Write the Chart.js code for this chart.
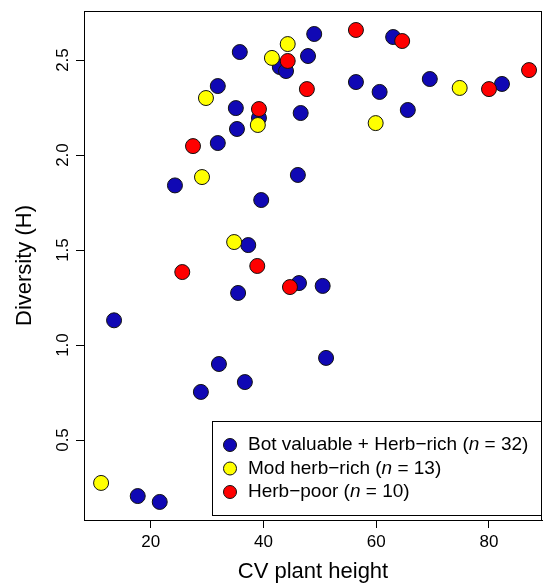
<!DOCTYPE html>
<html>
<head>
<meta charset="utf-8">
<script src="https://cdn.jsdelivr.net/npm/chart.js@4"></script>
<style>
  html, body { margin: 0; padding: 0; background: #fff; }
</style>
</head>
<body>
<canvas id="myChart" width="544" height="586"></canvas>
<script>
const groupNames = ["Bot valuable + Herb\u2212rich", "Mod herb\u2212rich", "Herb\u2212poor"]
const groupCounts = [32, 13, 10]
const groupColors = ["#1008b4", "#ffff00", "#ff0000"]

// CV plant height / diversity per group
const botX = [13.5, 17.7, 21.6, 24.3, 28.9, 31.9, 31.9, 32.1, 35.1, 35.3, 35.8, 35.5, 36.7, 37.3, 39.2, 39.6,
  42.9, 44.0, 47.9, 49.0, 46.6, 46.1, 46.3, 50.5, 51.1, 56.4, 60.6, 63.0, 65.6, 69.5, 82.3]
const botY = [1.13, 0.205, 0.174, 1.84, 0.753, 2.063, 2.363, 0.90, 2.247, 2.137, 2.542, 1.274, 0.805, 1.526, 2.195, 1.763,
  2.463, 2.442, 2.521, 2.637, 2.221, 1.895, 1.326, 1.311, 0.932, 2.384, 2.332, 2.621, 2.237, 2.40, 2.374]

const modX = [11.2, 29.8, 29.1, 34.8, 39.0, 41.5, 44.3, 59.9, 74.8]
const modY = [0.274, 2.30, 1.884, 1.542, 2.158, 2.511, 2.584, 2.168, 2.353]

const poorX = [27.5, 25.6, 39.2, 38.9, 44.7, 44.3, 47.7, 56.4, 64.6, 80.0, 87.1]
const poorY = [2.047, 1.384, 2.242, 1.416, 1.305, 2.495, 2.347, 2.658, 2.60, 2.347, 2.447]

const xTicks = [20, 40, 60, 80]
const yTicks = [0.5, 1.0, 1.5, 2.0, 2.5]

const fontFam = "'Liberation Sans', Arial, sans-serif"

const toPoints = (xs, ys) => xs.map((x, i) => ({ x: x, y: ys[i] }))

function makeSet(i, xs, ys) {
  return {
    label: groupNames[i],
    data: toPoints(xs, ys),
    backgroundColor: groupColors[i],
    borderColor: "#111",
    borderWidth: 1,
    pointRadius: 7.5,
    pointHoverRadius: 7.5,
    order: 3 - i,
  }
}

// box round the plot region, like R's box()
const boxPlugin = {
  id: "plotBox",
  afterDatasetsDraw(chart) {
    const a = chart.chartArea
    const ctx = chart.ctx
    ctx.save()
    ctx.strokeStyle = "#000"
    ctx.lineWidth = 1
    ctx.strokeRect(Math.round(a.left) + 0.5, Math.round(a.top) + 0.5, Math.round(a.right - a.left) - 1, Math.round(a.bottom - a.top))
    ctx.restore()
  },
}

// legend inside the bottom right corner
const legendPlugin = {
  id: "innerLegend",
  afterDraw(chart) {
    const a = chart.chartArea
    const ctx = chart.ctx
    const w = 330, h = 94
    const left = a.right - w, top = a.bottom - 5 - h
    ctx.save()
    ctx.fillStyle = "#fff"
    ctx.fillRect(left, top, w, h)
    ctx.strokeStyle = "#000"
    ctx.lineWidth = 1
    ctx.strokeRect(Math.round(left) + 0.5, Math.round(top) + 0.5, w - 1, h)
    ctx.textBaseline = "middle"
    chart.data.datasets.forEach((ds, i) => {
      const y = top + 24 + i * 23.5
      ctx.beginPath()
      ctx.arc(left + 18, y, 6.5, 0, Math.PI * 2)
      ctx.fillStyle = ds.backgroundColor
      ctx.fill()
      ctx.strokeStyle = "#111"
      ctx.stroke()
      ctx.fillStyle = "#000"
      let x = left + 36
      const parts = [
        [ds.label + " (", "normal"],
        ["n", "italic"],
        [" = " + groupCounts[i] + ")", "normal"],
      ]
      parts.forEach(p => {
        ctx.font = p[1] + " 19px " + fontFam
        ctx.fillText(p[0], x, y)
        x += ctx.measureText(p[0]).width
      })
    })
    ctx.restore()
  },
}

const chart1 = document.getElementById("myChart")
var myChart = new Chart(chart1, {
  type: "scatter",
  data: {
    datasets: [makeSet(0, botX, botY), makeSet(1, modX, modY), makeSet(2, poorX, poorY)],
  },
  options: {
    responsive: false,
    animation: false,
    devicePixelRatio: 1,
    layout: { autoPadding: false, padding: { top: 11, right: 2, left: 0, bottom: 0 } },
    scales: {
      x: {
        type: "linear",
        min: 8.17,
        max: 89.4,
        afterBuildTicks: s => { s.ticks = xTicks.map(v => ({ value: v })) },
        afterFit: s => { s.height = 66; s.paddingLeft = 0; s.paddingRight = 0 },
        ticks: {
          color: "#000",
          font: { family: fontFam, size: 17 },
          padding: 4,
          maxRotation: 0,
          callback: v => String(v),
        },
        grid: { drawOnChartArea: false, drawTicks: true, tickLength: 8, color: "#000" },
        border: { display: true, color: "#000" },
        title: {
          display: true,
          text: "CV plant height",
          color: "#000",
          font: { family: fontFam, size: 22 },
          padding: { top: 0, bottom: 1 },
        },
      },
      y: {
        type: "linear",
        min: 0.079,
        max: 2.758,
        afterBuildTicks: s => { s.ticks = yTicks.map(v => ({ value: v })) },
        afterFit: s => { s.width = 84; s.paddingTop = 0; s.paddingBottom = 0 },
        ticks: {
          color: "#000",
          font: { family: fontFam, size: 17 },
          padding: 1,
          minRotation: 90,
          maxRotation: 90,
          crossAlign: "center",
          callback: v => v.toFixed(1),
        },
        grid: { drawOnChartArea: false, drawTicks: true, tickLength: 8, color: "#000" },
        border: { display: true, color: "#000" },
        title: {
          display: true,
          text: "Diversity (H)",
          color: "#000",
          font: { family: fontFam, size: 22 },
          padding: { top: 12, bottom: 0 },
        },
      },
    },
    plugins: {
      legend: { display: false },
      tooltip: { enabled: false },
    },
  },
  plugins: [boxPlugin, legendPlugin],
})
</script>
</body>
</html>
